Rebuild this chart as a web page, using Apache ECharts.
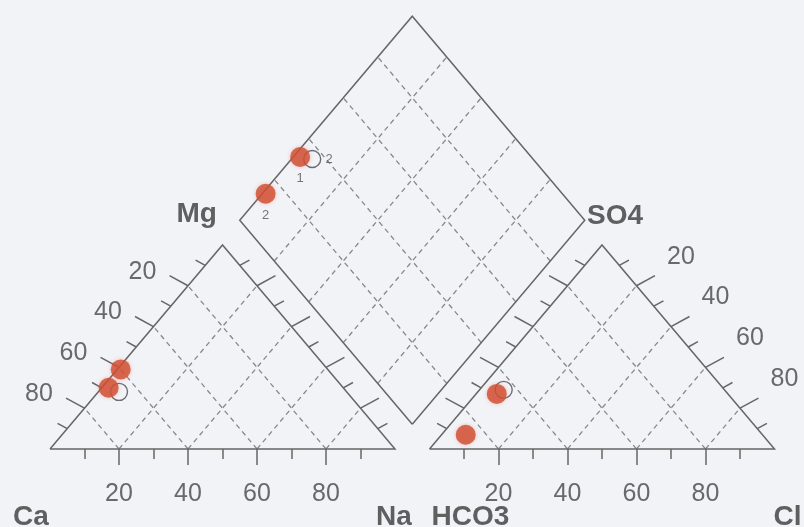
<!DOCTYPE html>
<html>
<head>
<meta charset="utf-8">
<script src="https://cdn.jsdelivr.net/npm/echarts@6/dist/echarts.min.js"></script>
<style>
  html, body { margin: 0; padding: 0; background: #f2f3f7; }
  #chart { width: 804px; height: 527px; }
</style>
</head>
<body>
<div id="chart"></div>
<script>
// Major-ion composition of the samples, in % of meq/l
const sampleNames = ['1', '2'];
const caPct   = [68, 60];
const mgPct   = [30, 39];
const naPct   = [2, 1];
const hco3Pct = [67, 86];
const so4Pct  = [27, 7];
const clPct   = [6, 7];

// Comparison set (open circles)
const refNames   = ['2'];
const refCaPct   = [66];
const refMgPct   = [28];
const refNaPct   = [6];
const refHco3Pct = [64];
const refSo4Pct  = [29];
const refClPct   = [7];

// Axis ticks and their labels
const tickSteps  = [10, 20, 30, 40, 50, 60, 70, 80, 90];
const tickLabels = ['20', '40', '60', '80'];
const gridSteps  = [20, 40, 60, 80];

// ---- layout of the Piper plot -------------------------------------------
const SX = 3.45, SY = 2.356;       // pixels per plot unit (x, y)
const ORIGIN_X = 50, BASE_Y = 449; // pixel position of the Ca corner
const WIDTH = 804, HEIGHT = 527;
const H = Math.sqrt(3) / 2;
const GAP = 10;                    // space between the two triangles
const LIFT = 10.5;                 // height of the lower corner of the diamond
const X0 = 100 + GAP;              // left corner of the anion triangle
const B = [100 + GAP / 2, LIFT];   // lower corner of the diamond

const off = (p, dx, dy) => [p[0] + dx / SX, p[1] - dy / SY]; // pixel offset
const cation  = (na, mg) => [na + mg / 2, mg * H];
const anion   = (cl, so4) => [X0 + cl + so4 / 2, so4 * H];
const diamond = (caMg, so4Cl) => [B[0] - caMg / 2 + so4Cl / 2, B[1] + (caMg + so4Cl) * H];

// frames
const frames = [
  [[0, 0], [100, 0], [50, 100 * H], [0, 0]],
  [[X0, 0], [X0 + 100, 0], [X0 + 50, 100 * H], [X0, 0]],
  [diamond(0, 0), diamond(100, 0), diamond(100, 100), diamond(0, 100), diamond(0, 0)]
];

// dashed grid
const dashed = [];
gridSteps.forEach(k => {
  [0, X0].forEach(x0 => {
    dashed.push([[x0 + k, 0], [x0 + k / 2, k * H]]);
    dashed.push([[x0 + k, 0], [x0 + k + (100 - k) / 2, (100 - k) * H]]);
  });
  dashed.push([diamond(k, 0), diamond(k, 100)]);
  dashed.push([diamond(0, k), diamond(100, k)]);
});

// ticks
const UL = [-0.88, -0.48], UR = [0.88, -0.48];
const ticks = [];
const edgeLabels = [];
const baseLabels = [];
const edges = [
  { at: t => [(100 - t) / 2, (100 - t) * H], dir: UL, label: [-45.5, -14] },      // Ca-Mg edge
  { at: t => [100 - (100 - t) / 2, (100 - t) * H], dir: UR },                      // Na-Mg edge
  { at: t => [X0 + (100 - t) / 2, (100 - t) * H], dir: UL },                       // HCO3-SO4 edge
  { at: t => [X0 + 50 + t / 2, (100 - t) * H], dir: UR, label: [44.5, -29] }       // SO4-Cl edge
];
tickSteps.forEach(t => {
  const major = t % 20 === 0;
  edges.forEach(e => {
    const p = e.at(t);
    const len = major ? 21 : 11;
    ticks.push([p, off(p, e.dir[0] * len, e.dir[1] * len)]);
    if (major && e.label) {
      edgeLabels.push({ value: off(p, e.label[0], e.label[1]), name: tickLabels[t / 20 - 1] });
    }
  });
  [0, X0].forEach(x0 => {
    const p = [x0 + t, 0];
    ticks.push([p, off(p, 0, major ? 16 : 10)]);
    if (major) baseLabels.push({ value: off(p, 0, 45), name: tickLabels[t / 20 - 1] });
  });
});

// corner titles
const titles = [
  { value: off(diamond(100, 0), -43, -6), name: 'Mg' },
  { value: off([X0 + 50, 100 * H], 13, -29), name: 'SO4' },
  { value: off([0, 0], -19, 68), name: 'Ca' },
  { value: off([100, 0], -1, 68), name: 'Na' },
  { value: off([X0, 0], 41, 68), name: 'HCO3' },
  { value: off([X0 + 100, 0], 13, 68), name: 'Cl' }
];

// plotted samples
function project(names, ca, mg, na, hco3, so4, cl) {
  const pts = [];
  names.forEach((n, i) => {
    pts.push({ value: cation(na[i], mg[i]), name: '' });
    pts.push({ value: anion(cl[i], so4[i]), name: '' });
    pts.push({ value: diamond(ca[i] + mg[i], so4[i] + cl[i]), name: n });
  });
  return pts;
}
const filled = project(sampleNames, caPct, mgPct, naPct, hco3Pct, so4Pct, clPct);
const open = project(refNames, refCaPct, refMgPct, refNaPct, refHco3Pct, refSo4Pct, refClPct);

const segs = list => list.map(c => ({ coords: c }));
const textSeries = (data, font) => ({
  type: 'scatter', data, symbolSize: 1, z: 5,
  itemStyle: { color: 'rgba(0,0,0,0)' },
  label: Object.assign({ show: true, position: 'inside', formatter: p => p.name,
    align: 'center', verticalAlign: 'middle', fontFamily: 'Liberation Sans, Arial, sans-serif' }, font)
});

const chart = echarts.init(document.getElementById('chart'), null, { renderer: 'canvas' });
chart.setOption({
  backgroundColor: '#f2f3f7',
  animation: false,
  grid: { left: 0, right: 0, top: 0, bottom: 0 },
  xAxis: { type: 'value', min: -ORIGIN_X / SX, max: (WIDTH - ORIGIN_X) / SX, show: false },
  yAxis: { type: 'value', min: -(HEIGHT - BASE_Y) / SY, max: BASE_Y / SY, show: false },
  series: [
    { type: 'lines', coordinateSystem: 'cartesian2d', data: segs(dashed), z: 1,
      lineStyle: { color: '#888888', width: 1.3, type: [5, 4], opacity: 1 } },
    { type: 'lines', coordinateSystem: 'cartesian2d', polyline: true, data: segs(frames), z: 2,
      lineStyle: { color: '#666666', width: 1.5, opacity: 1 } },
    { type: 'lines', coordinateSystem: 'cartesian2d', data: segs(ticks), z: 2,
      lineStyle: { color: '#666666', width: 1.5, opacity: 1 } },
    { type: 'scatter', data: open, symbolSize: 17, z: 3,
      itemStyle: { color: 'rgba(255,255,255,0)', borderColor: '#4a4a55', borderWidth: 1.4 },
      label: { show: true, position: 'right', distance: 4, formatter: p => p.name,
        color: '#555', fontSize: 13, fontFamily: 'Liberation Sans, Arial, sans-serif' } },
    { type: 'scatter', data: filled, symbolSize: 20, z: 4,
      itemStyle: { color: '#cf4b2d', shadowBlur: 4, shadowColor: 'rgba(230,110,100,0.45)' },
      label: { show: true, position: 'bottom', distance: 5, formatter: p => p.name,
        color: '#555', fontSize: 13, fontFamily: 'Liberation Sans, Arial, sans-serif' } },
    textSeries(edgeLabels, { fontSize: 25, color: '#464646' }),
    textSeries(baseLabels, { fontSize: 25, color: '#464646' }),
    textSeries(titles, { fontSize: 28, fontWeight: 'bold', color: '#3a3a3a' })
  ]
});
</script>
</body>
</html>
